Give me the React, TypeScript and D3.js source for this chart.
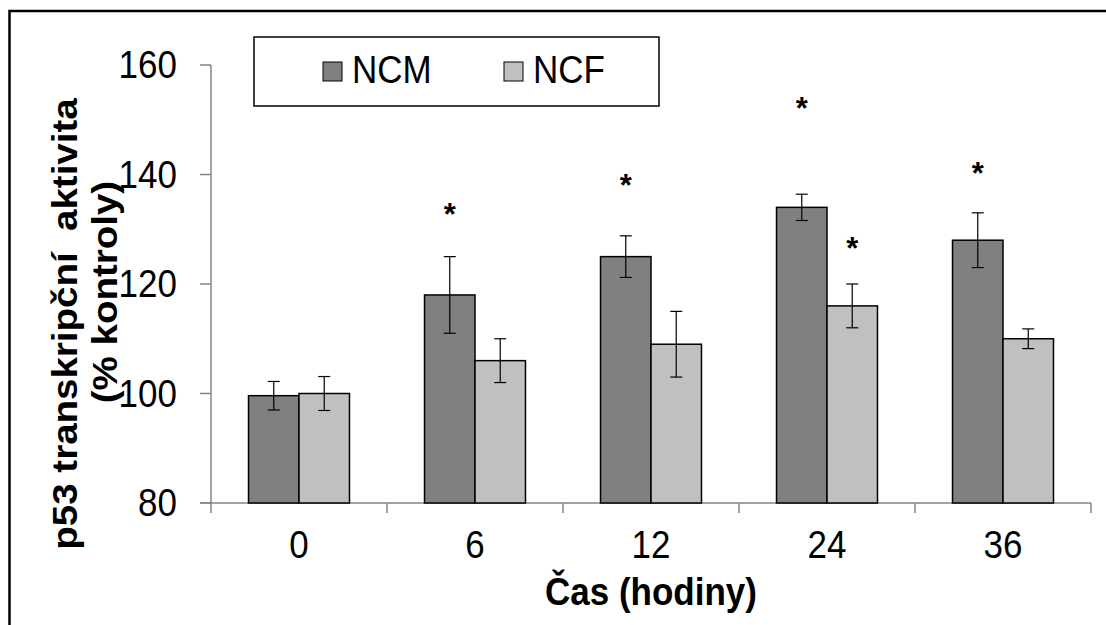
import React, { useEffect, useRef } from "react";
import * as d3 from "d3";

const categories = ["0", "6", "12", "24", "36"];
const seriesNames = ["NCM", "NCF"];
const seriesColors = ["#808080", "#c0c0c0"];
const ncmValues = [99.6, 118, 125, 134, 128];
const ncmErrors = [2.6, 7, 3.8, 2.4, 5];
const ncfValues = [100, 106, 109, 116, 110];
const ncfErrors = [3.1, 4, 6, 4, 1.8];
// where the significance stars sit (value at the star centre), null = no star
const ncmStars = [null, 134.1, 139.4, 153.4, 141.6];
const ncfStars = [null, null, null, 127.9, null];
const yTicks = [80, 100, 120, 140, 160];

const FONT = "'Liberation Sans', Arial, sans-serif";

export default function App() {
  const svgRef = useRef<SVGSVGElement>(null);

  useEffect(() => {
    const svg = d3.select(svgRef.current);
    svg.selectAll("*").remove();

    const x = d3.scaleBand().domain(categories).range([211, 1091]).padding(0);
    const xInner = d3.scaleBand().domain(seriesNames).range([0, x.bandwidth()]).paddingInner(0).paddingOuter(0.743);
    const y = d3.scaleLinear().domain([80, 160]).range([503, 65]);

    const rows = categories.map((c, i) => ({
      cat: c,
      vals: [
        { s: "NCM", v: ncmValues[i], e: ncmErrors[i], star: ncmStars[i], color: seriesColors[0] },
        { s: "NCF", v: ncfValues[i], e: ncfErrors[i], star: ncfStars[i], color: seriesColors[1] },
      ],
    }));

    // outer frame
    svg.append("rect").attr("x", 9.5).attr("y", 11).attr("width", 1120).attr("height", 640)
      .attr("fill", "none").attr("stroke", "#000").attr("stroke-width", 2.5);

    const axisColor = "#868686";

    // y axis
    const yAxis = svg.append("g");
    yAxis.append("line").attr("x1", 211).attr("x2", 211).attr("y1", y(160)).attr("y2", y(80))
      .attr("stroke", axisColor).attr("stroke-width", 1.5);
    yAxis.selectAll(".ytick").data(yTicks).join("line")
      .attr("x1", 200).attr("x2", 211).attr("y1", d => y(d)).attr("y2", d => y(d))
      .attr("stroke", axisColor).attr("stroke-width", 1.5);
    yAxis.selectAll(".ylab").data(yTicks).join("text")
      .attr("transform", d => `translate(177,${y(d) + 13}) scale(1,1.1)`)
      .attr("text-anchor", "end").attr("font-family", FONT).attr("font-size", 35)
      .attr("fill", "#000").text(d => d);

    // x axis
    const xAxis = svg.append("g");
    xAxis.append("line").attr("x1", 200).attr("x2", 1091).attr("y1", y(80)).attr("y2", y(80))
      .attr("stroke", axisColor).attr("stroke-width", 1.5);
    const bounds = categories.map(c => x(c)!).concat([x(categories[categories.length - 1])! + x.bandwidth()]);
    xAxis.selectAll(".xtick").data(bounds).join("line")
      .attr("x1", d => d).attr("x2", d => d).attr("y1", y(80)).attr("y2", y(80) + 10)
      .attr("stroke", axisColor).attr("stroke-width", 1.5);
    xAxis.selectAll(".xlab").data(categories).join("text")
      .attr("transform", d => `translate(${x(d)! + x.bandwidth() / 2},558) scale(1,1.1)`)
      .attr("text-anchor", "middle").attr("font-family", FONT).attr("font-size", 35)
      .attr("fill", "#000").text(d => d);

    // bars
    const groups = svg.selectAll(".grp").data(rows).join("g")
      .attr("transform", d => `translate(${x(d.cat)},0)`);

    groups.selectAll("rect").data(d => d.vals).join("rect")
      .attr("x", d => xInner(d.s)!)
      .attr("width", xInner.bandwidth())
      .attr("y", d => y(d.v))
      .attr("height", d => y(80) - y(d.v))
      .attr("fill", d => d.color)
      .attr("stroke", "#000").attr("stroke-width", 1.5);

    // error bars
    const cx = (d: { s: string }) => xInner(d.s)! + xInner.bandwidth() / 2;
    const err = groups.selectAll(".err").data(d => d.vals).join("g");
    err.append("line")
      .attr("x1", cx).attr("x2", cx)
      .attr("y1", d => y(d.v + d.e)).attr("y2", d => y(d.v - d.e))
      .attr("stroke", "#000").attr("stroke-width", 1.2);
    err.append("line")
      .attr("x1", d => cx(d) - 6).attr("x2", d => cx(d) + 6)
      .attr("y1", d => y(d.v + d.e)).attr("y2", d => y(d.v + d.e))
      .attr("stroke", "#000").attr("stroke-width", 1.2);
    err.append("line")
      .attr("x1", d => cx(d) - 6).attr("x2", d => cx(d) + 6)
      .attr("y1", d => y(d.v - d.e)).attr("y2", d => y(d.v - d.e))
      .attr("stroke", "#000").attr("stroke-width", 1.2);

    // significance stars
    groups.selectAll(".star").data(d => d.vals.filter(v => v.star != null)).join("text")
      .attr("x", d => cx(d))
      .attr("y", d => y(d.star as number) + 18)
      .attr("text-anchor", "middle").attr("font-family", FONT).attr("font-weight", "bold")
      .attr("font-size", 31).attr("fill", "#000").text("*");

    // axis titles
    svg.append("text")
      .attr("transform", `translate(651,605) scale(1,1.1)`)
      .attr("text-anchor", "middle").attr("font-family", FONT).attr("font-weight", "bold")
      .attr("font-size", 35).attr("fill", "#000").text("Čas (hodiny)");
    svg.append("text")
      .attr("transform", `translate(77,324) scale(1,1.1) rotate(-90)`)
      .attr("text-anchor", "middle").attr("font-family", FONT).attr("font-weight", "bold")
      .attr("font-size", 35).attr("fill", "#000")
      .text("p53 transkripční\u00a0\u00a0aktivita");
    svg.append("text")
      .attr("transform", `translate(117,292) scale(1,1.1) rotate(-90)`)
      .attr("text-anchor", "middle").attr("font-family", FONT).attr("font-weight", "bold")
      .attr("font-size", 35).attr("fill", "#000").text("(% kontroly)");

    // legend
    const legend = svg.append("g");
    legend.append("rect").attr("x", 254).attr("y", 37).attr("width", 405).attr("height", 69)
      .attr("fill", "#fff").attr("stroke", "#000").attr("stroke-width", 1.5);
    const legendX = [323, 504];
    const items = legend.selectAll(".li").data(seriesNames).join("g")
      .attr("transform", (d, i) => `translate(${legendX[i]},62)`);
    items.append("rect").attr("width", 19).attr("height", 19)
      .attr("fill", (d, i) => seriesColors[i]).attr("stroke", "#000").attr("stroke-width", 1);
    items.append("text")
      .attr("transform", "translate(29,21) scale(1,1.1)")
      .attr("font-family", FONT).attr("font-size", 35).attr("fill", "#000").text(d => d);
  }, []);

  return (
    <svg ref={svgRef} width={1106} height={625}
      style={{ position: "absolute", left: 0, top: 0, background: "#fff" }} />
  );
}
